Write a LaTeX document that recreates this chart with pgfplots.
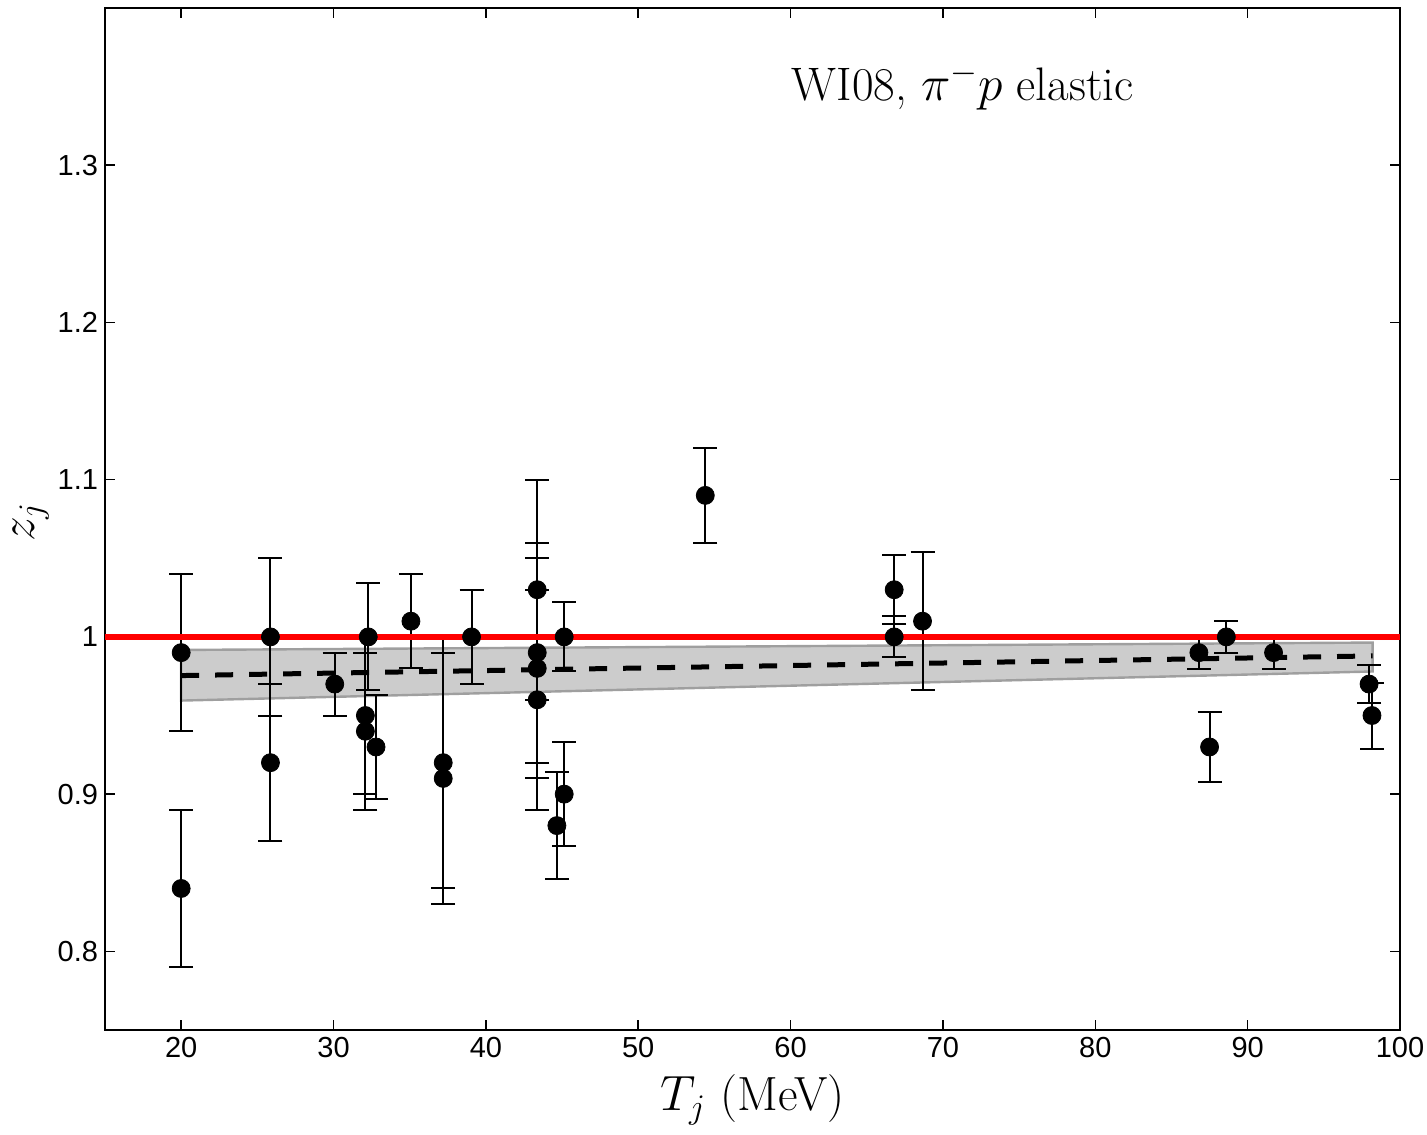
\documentclass[border=0pt]{standalone}
\usepackage{pgfplots}
\pgfplotsset{compat=1.18}
\usepackage{fontspec}
\newfontfamily\tickfont{Liberation Sans}
\pgfplotstableread{
x y e
20.0 0.99 0.05
20.0 0.84 0.05
25.86 1.00 0.05
25.86 0.92 0.05
30.08 0.97 0.02
32.09 0.95 0.05
32.09 0.94 0.05
32.28 1.00 0.034
32.79 0.93 0.033
35.08 1.01 0.03
37.2 0.92 0.08
37.2 0.91 0.08
39.06 1.00 0.03
43.37 1.03 0.07
43.37 0.99 0.07
43.37 0.98 0.07
43.37 0.96 0.07
44.66 0.88 0.034
45.14 0.90 0.033
45.14 1.00 0.022
54.4 1.09 0.03
66.8 1.03 0.022
66.8 1.00 0.013
68.66 1.01 0.044
86.8 0.99 0.0105
87.5 0.93 0.022
88.6 1.00 0.01
91.7 0.99 0.0105
97.97 0.97 0.012
98.16 0.95 0.021
}\datatable
\begin{document}
\begin{tikzpicture}
\begin{axis}[name=ax, scale only axis, width=647.5bp, height=511bp,
  xmin=15, xmax=100, ymin=0.75, ymax=1.40,
  xtick={20,30,...,100}, ytick={0.8,0.9,1,1.1,1.2,1.3},
  tick align=inside, major tick length=5bp,
  axis line style={line width=0.8bp},
  every tick/.style={line width=0.8bp, black},
  ticklabel style={font=\fontsize{14.5bp}{16bp}\tickfont},
  /pgf/number format/assume math mode=true,
  xlabel={$T_j$ (MeV)}, ylabel={$z_j$},
  label style={font=\fontsize{24bp}{28bp}\selectfont},
  xlabel style={at={(axis description cs:0.5,-0.0685)}, anchor=center},
  ylabel style={at={(axis description cs:-0.057,0.497)}, anchor=center, inner sep=0pt},
  clip=true]
\addplot[fill=gray!40, draw=gray!75, line width=1.2bp] coordinates {(20,0.9917) (98.2,0.9964) (98.2,0.978) (20,0.9595)} -- cycle;
\addplot[only marks, mark=*, mark size=4.5bp, black,
  error bars/.cd, y dir=both, y explicit,
  error bar style={line width=1bp, black},
  error mark options={rotate=90, mark size=6bp, line width=1bp, black}]
  table[x=x, y=y, y error=e] {\datatable};
\addplot[black, line width=2.5bp, dash pattern=on 9bp off 8bp] coordinates {(20,0.9754) (98.2,0.9879)};
\addplot[red, line width=3.2bp] coordinates {(15,1) (100,1)};
\node[font=\fontsize{23.5bp}{28bp}\selectfont] at (axis cs:71.3,1.35) {WI08, $\pi^-p$ elastic};
\end{axis}
\pgfresetboundingbox
\path[use as bounding box] ([xshift=-52.5bp,yshift=-52.5bp]ax.south west) rectangle ([xshift=13.5bp,yshift=4bp]ax.north east);
\end{tikzpicture}
\end{document}
